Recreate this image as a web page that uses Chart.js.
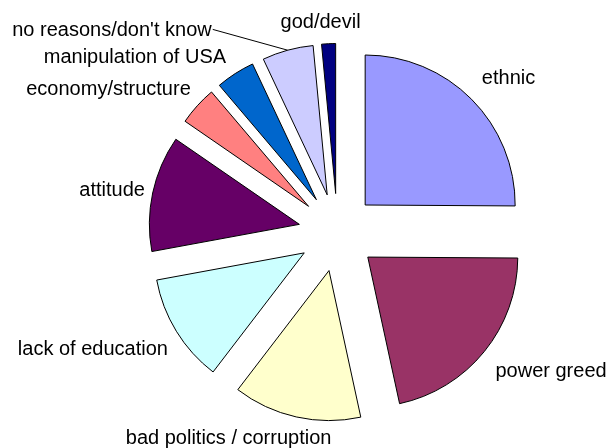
<!DOCTYPE html>
<html>
<head>
<meta charset="utf-8">
<script src="https://cdn.jsdelivr.net/npm/chart.js@4.4.1/dist/chart.umd.min.js"></script>
<style>
  html, body { margin: 0; padding: 0; background: #fff; }
  canvas { display: block; }
</style>
</head>
<body>
<canvas id="pieChart" width="611" height="448"></canvas>
<script>
// Reasons, share of answers (%)
const categories = [
    'ethnic', 'power greed', 'bad politics / corruption', 'lack of education',
    'attitude', 'economy/structure', 'manipulation of USA',
    "no reasons/don't know", 'god/devil'
];
const shares = [25.1, 21.5, 13.8, 11.7, 12.5, 4.2, 4.2, 5.5, 1.5];
const sliceColors = [
    '#9999FF', '#993366', '#FFFFCC', '#CCFFFF',
    '#660066', '#FF8080', '#0066CC', '#CCCCFF', '#000080'
];
// small corrections to the computed label spot [dx, dy]
const labelShift = [
    [1, 4], [5, -1], [-40, -11], [1, 1], [15, 5],
    [-10, 7], [-38, 13], [-143, 14], [-5, 13]
];

const FONT = '20px "Liberation Sans", Arial, sans-serif';
// distance every slice is pulled out from the centre (px)
const EXPLODE = 39;

// Chart.js' own `offset` also stretches thin slices, so move each arc
// as a whole instead: wrap the element's draw in a translate
const explodeSlices = {
    id: 'explodeSlices',
    afterUpdate(chart) {
        chart.getDatasetMeta(0).data.forEach(arc => {
            if (arc._exploded) return;
            const baseDraw = arc.draw;
            arc.draw = function (ctx, area) {
                const mid = (this.startAngle + this.endAngle) / 2;
                ctx.save();
                ctx.translate(Math.cos(mid) * EXPLODE, Math.sin(mid) * EXPLODE);
                baseDraw.call(this, ctx, area);
                ctx.restore();
            };
            arc._exploded = true;
        });
    }
};

// draws labels outside the slices, Excel style
const outsideLabels = {
    id: 'outsideLabels',
    afterDatasetsDraw(chart) {
        const ctx = chart.ctx;
        const meta = chart.getDatasetMeta(0);
        ctx.save();
        ctx.font = FONT;
        ctx.fillStyle = '#000';
        ctx.textBaseline = 'alphabetic';
        ctx.textAlign = 'left';
        meta.data.forEach((arc, i) => {
            const mid = (arc.startAngle + arc.endAngle) / 2;
            const cos = Math.cos(mid);
            const sin = Math.sin(mid);
            const dist = arc.outerRadius + EXPLODE + 24;
            const ax = arc.x + cos * dist;
            const ay = arc.y + sin * dist;
            const text = chart.data.labels[i];
            const w = ctx.measureText(text).width;
            const h = 20;
            const shift = labelShift[i];
            const left = ax - w * (1 - cos) / 2 + shift[0];
            const top = ay - h * (1 - sin) / 2 + shift[1];
            const base = top + 15;
            ctx.fillText(text, left, base);

            if (Math.hypot(shift[0], shift[1]) > 60) {
                // leader line back to the slice
                const r = arc.outerRadius + EXPLODE;
                ctx.beginPath();
                ctx.lineWidth = 1;
                ctx.strokeStyle = '#000';
                ctx.moveTo(left + w + 1, base - 7);
                ctx.lineTo(arc.x + cos * r, arc.y + sin * r);
                ctx.stroke();
            }
        });
        ctx.restore();
    }
};

new Chart(document.getElementById('pieChart'), {
    type: 'pie',
    data: {
        labels: categories,
        datasets: [{
            data: shares,
            backgroundColor: sliceColors,
            borderColor: '#000',
            borderWidth: 1,
            radius: 150
        }]
    },
    options: {
        responsive: false,
        animation: false,
        layout: { padding: { left: 64, right: 0, top: 17, bottom: 0 } },
        plugins: {
            legend: { display: false },
            tooltip: { enabled: false }
        }
    },
    plugins: [explodeSlices, outsideLabels]
});
</script>
</body>
</html>
